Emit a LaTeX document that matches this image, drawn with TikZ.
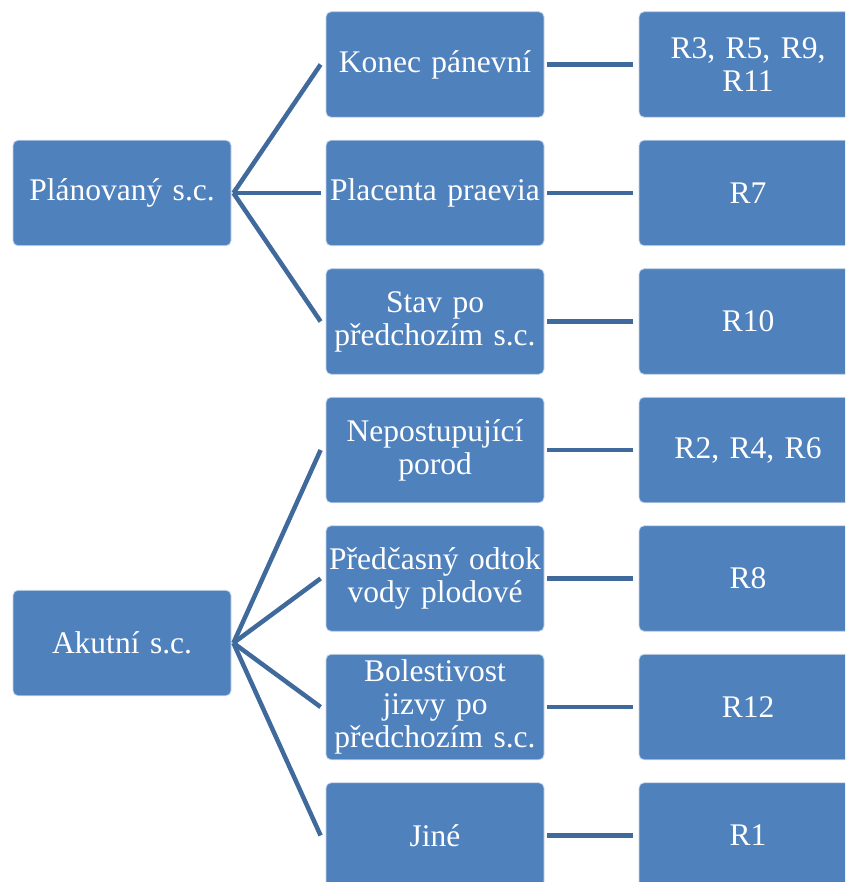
\documentclass[tikz,border=0pt]{standalone}
\usepackage{fontspec}
\setmainfont{Liberation Serif}
\newfontfamily\cardfont{Liberation Serif}
\definecolor{boxblue}{HTML}{4F81BD}
\definecolor{linkblue}{HTML}{3F6A9B}
\definecolor{rimblue}{HTML}{C9D7EA}
\begin{document}
\begin{tikzpicture}[x=1pt,y=-1pt,
  card/.style={draw=rimblue, line width=0.8pt, fill=boxblue, rounded corners=5pt,
    minimum width=218pt, minimum height=105.5pt, text width=214pt, inner sep=0pt,
    align=center, text=white, font=\cardfont\fontsize{31.5}{33}\selectfont},
  link/.style={draw=linkblue, line width=4.5pt}]
\clip (0,0) rectangle (845,882);
\fill[white] (0,0) rectangle (845,882);

% root boxes
\node[card] (plan) at (122,193) {Plánovaný s.c.};
\node[card] (akut) at (122,643) {Akutní s.c.};

% indications
\node[card] (m1) at (435,64.5)  {Konec pánevní};
\node[card] (m2) at (435,193)   {Placenta praevia};
\node[card] (m3) at (435,321.5) {Stav po\\předchozím s.c.};
\node[card] (m4) at (435,450)   {Nepostupující\\porod};
\node[card] (m5) at (435,578.5) {Předčasný odtok\\vody plodové};
\node[card] (m6) at (435,707)   {Bolestivost\\jizvy po\\předchozím s.c.};
\node[card] (m7) at (435,835.5) {Jiné};

% respondent groups
\node[card] (r1) at (748,64.5)  {R3, R5, R9,\\R11};
\node[card] (r2) at (748,193)   {R7};
\node[card] (r3) at (748,321.5) {R10};
\node[card] (r4) at (748,450)   {R2, R4, R6};
\node[card] (r5) at (748,578.5) {R8};
\node[card] (r6) at (748,707)   {R12};
\node[card] (r7) at (748,835.5) {R1};

% fan-out connectors
\foreach \m in {m1,m2,m3}
  \draw[link] ([xshift=2pt]plan.east) -- ([xshift=-5pt]\m.west);
\foreach \m in {m4,m5,m6,m7}
  \draw[link] ([xshift=2pt]akut.east) -- ([xshift=-5pt]\m.west);

% straight connectors
\foreach \i in {1,...,7}
  \draw[link] ([xshift=3pt]m\i.east) -- ([xshift=-6pt]r\i.west);
\end{tikzpicture}
\end{document}
